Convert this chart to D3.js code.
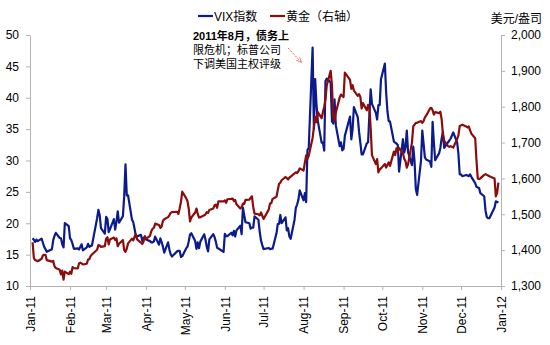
<!DOCTYPE html>
<html>
<head>
<meta charset="utf-8">
<script src="https://cdn.jsdelivr.net/npm/d3@7"></script>
<style>
  html, body { margin: 0; padding: 0; background: #fff; }
  svg { display: block; font-family: "Liberation Sans", Arial, "Noto Sans CJK SC", sans-serif; }
</style>
</head>
<body>
<svg id="chart" width="550" height="345"></svg>
<script>
// ---- Trading days of 2011 (by month) ----
const monthDays = [
  [3,4,5,6,7,10,11,12,13,14,18,19,20,21,24,25,26,27,28,31],
  [1,2,3,4,7,8,9,10,11,14,15,16,17,18,22,23,24,25,28],
  [1,2,3,4,7,8,9,10,11,14,15,16,17,18,21,22,23,24,25,28,29,30,31],
  [1,4,5,6,7,8,11,12,13,14,15,18,19,20,21,25,26,27,28,29],
  [2,3,4,5,6,9,10,11,12,13,16,17,18,19,20,23,24,25,26,27,31],
  [1,2,3,6,7,8,9,10,13,14,15,16,17,20,21,22,23,24,27,28,29,30],
  [1,5,6,7,8,11,12,13,14,15,18,19,20,21,22,25,26,27,28,29],
  [1,2,3,4,5,8,9,10,11,12,15,16,17,18,19,22,23,24,25,26,29,30,31],
  [1,2,6,7,8,9,12,13,14,15,16,19,20,21,22,23,26,27,28,29,30],
  [3,4,5,6,7,10,11,12,13,14,17,18,19,20,21,24,25,26,27,28,31],
  [1,2,3,4,7,8,9,10,11,14,15,16,17,18,21,22,23,25,28,29,30],
  [1,2,5,6,7,8,9,12,13,14,15,16,19,20,21,22,23,27,28,29,30]
];

// ---- VIX index (left axis), by month ----
const vix = [
  [17.61,17.38,17.02,17.40,17.14,17.54,16.89,16.24,15.87,15.46,15.87,17.31,17.99,18.47,17.65,17.59,16.64,16.15,20.04,19.53],
  [17.63,17.30,16.69,15.93,16.00,15.81,16.24,16.64,15.69,16.14,16.72,16.23,16.40,16.43,20.80,22.13,21.32,19.22,18.35],
  [21.01,20.70,18.60,19.06,20.66,19.00,20.22,21.88,20.08,21.13,24.32,29.40,24.44,24.44,20.61,20.18,19.17,18.00,17.91,18.16,17.19,17.68,17.74],
  [17.40,17.15,16.95,16.94,17.11,17.87,16.59,17.59,17.00,16.27,15.32,16.96,15.83,15.07,14.69,15.52,15.62,15.59,14.62,14.75],
  [15.99,16.25,17.08,18.20,18.40,17.16,15.91,16.95,16.03,17.07,18.24,17.42,16.23,15.52,17.43,18.27,17.82,17.07,16.09,15.98,15.45],
  [18.30,17.95,17.95,18.49,18.07,18.79,17.90,18.86,19.61,18.26,22.50,21.30,20.17,19.99,19.14,19.29,19.29,21.10,20.56,18.67,17.27,16.52],
  [15.87,16.06,15.87,15.95,15.95,18.39,19.87,19.91,21.32,20.00,20.95,18.85,19.21,17.90,17.52,20.56,22.44,22.98,23.74,25.25],
  [23.66,24.79,23.38,31.66,32.00,48.00,35.06,42.99,39.00,36.36,32.85,32.85,31.58,42.67,43.05,42.44,36.27,35.90,39.76,35.59,32.28,32.89,31.62],
  [31.82,33.92,37.00,33.38,35.00,38.52,36.91,34.60,32.86,30.98,30.98,32.73,32.91,37.32,41.35,39.02,37.59,36.53,38.84,38.84,42.96],
  [45.45,40.82,37.81,36.27,36.20,33.02,32.86,32.71,32.46,28.24,33.39,31.26,32.13,34.78,31.32,29.26,32.22,29.86,25.46,24.53,29.96],
  [34.77,32.74,30.50,30.16,29.85,28.99,36.16,32.81,30.04,31.13,32.00,33.51,34.51,32.00,32.91,33.19,33.51,34.47,32.89,31.08,27.80],
  [27.80,27.50,27.70,27.60,27.50,27.80,27.40,26.40,25.80,25.70,25.60,24.80,24.30,22.00,21.00,20.80,20.80,22.50,23.50,23.40,23.30]
];

// ---- Gold, USD/oz (right axis), by month ----
const gold = [
  [1422,1378,1372,1371,1369,1376,1385,1387,1387,1372,1368,1370,1355,1350,1345,1332,1343,1318,1340,1333],
  [1340,1334,1353,1350,1349,1363,1365,1363,1360,1362,1374,1375,1384,1388,1401,1414,1413,1409,1411],
  [1432,1436,1416,1430,1435,1428,1433,1411,1418,1428,1400,1395,1404,1419,1432,1427,1437,1444,1430,1421,1417,1424,1439],
  [1432,1440,1453,1460,1462,1474,1470,1462,1466,1482,1486,1492,1497,1504,1506,1507,1501,1517,1535,1563],
  [1545,1537,1516,1480,1491,1505,1516,1501,1491,1492,1497,1500,1506,1504,1512,1516,1525,1527,1518,1536,1536],
  [1539,1532,1542,1543,1544,1537,1540,1528,1516,1520,1530,1529,1540,1541,1546,1550,1520,1502,1500,1497,1505,1496],
  [1487,1513,1530,1531,1543,1549,1567,1585,1588,1595,1604,1601,1597,1602,1605,1614,1617,1615,1620,1628],
  [1622,1644,1664,1655,1663,1713,1742,1772,1757,1785,1768,1785,1800,1822,1860,1900,1860,1770,1760,1783,1826,1834,1830],
  [1827,1895,1875,1850,1860,1845,1830,1835,1828,1795,1810,1790,1805,1800,1741,1665,1640,1654,1617,1625,1628],
  [1640,1630,1638,1645,1635,1675,1665,1684,1675,1685,1670,1655,1648,1630,1640,1700,1745,1750,1755,1755,1760],
  [1755,1760,1770,1775,1795,1797,1790,1778,1785,1782,1786,1765,1722,1705,1690,1688,1690,1686,1710,1720,1746],
  [1748,1750,1745,1742,1745,1735,1725,1712,1650,1600,1598,1600,1610,1612,1610,1608,1606,1600,1550,1560,1588]
];

const leftTicks = [10,15,20,25,30,35,40,45,50];
const rightTicks = [1300,1400,1500,1600,1700,1800,1900,2000];
const monthTicks = d3.range(0, 13).map(m => new Date(2011, m, 1));

const seriesNames = ["VIX指数", "黄金（右轴）"];
const unitLabel = "美元/盎司";
const noteLines = ["2011年8月，债务上", "限危机；标普公司", "下调美国主权评级"];

// ---- build rows ----
const vixRows = [], goldRows = [];
monthDays.forEach((days, m) => {
  days.forEach((d, i) => {
    const dt = new Date(2011, m, d);
    vixRows.push({date: dt, v: vix[m][i]});
    goldRows.push({date: dt, v: gold[m][i]});
  });
});

// ---- layout ----
const svg = d3.select("#chart");
const L = 30, R = 501, T = 35, B = 286;
const axisColor = "#b3b3b3";
const blue = "#0b1a8c", red = "#8c0c0c";

const x = d3.scaleTime().domain([new Date(2011,0,1), new Date(2012,0,1)]).range([L, R]);
const yL = d3.scaleLinear().domain([10, 50]).range([B, T]);
const yR = d3.scaleLinear().domain([1300, 2000]).range([B, T]);

function styleAxis(g) {
  g.select(".domain").attr("stroke", axisColor).attr("stroke-width", 1);
  g.selectAll(".tick line").attr("stroke", axisColor);
  g.selectAll(".tick text").attr("fill", "#000").style("font-size", "12px")
    .style("font-family", '"Liberation Sans", Arial, sans-serif');
}

// left axis
svg.append("g").attr("transform", `translate(${L},0)`)
  .call(d3.axisLeft(yL).tickValues(leftTicks).tickSize(4).tickPadding(7).tickSizeOuter(0))
  .call(styleAxis);

// right axis
svg.append("g").attr("transform", `translate(${R},0)`)
  .call(d3.axisRight(yR).tickValues(rightTicks).tickFormat(d3.format(",")).tickSize(4).tickPadding(6).tickSizeOuter(0))
  .call(styleAxis);

// bottom axis
const xg = svg.append("g").attr("transform", `translate(0,${B})`)
  .call(d3.axisBottom(x).tickValues(monthTicks).tickFormat(d3.timeFormat("%b-%y")).tickSize(4).tickSizeOuter(0))
  .call(styleAxis);
xg.selectAll(".tick text")
  .attr("transform", "rotate(-90)")
  .attr("text-anchor", "end")
  .attr("x", -10).attr("y", 0).attr("dy", "0.35em");

// lines
const lineL = d3.line().x(d => x(d.date)).y(d => yL(d.v));
const lineR = d3.line().x(d => x(d.date)).y(d => yR(d.v));

svg.append("path").datum(vixRows)
  .attr("fill", "none").attr("stroke", blue).attr("stroke-width", 2.2)
  .attr("stroke-linejoin", "round").attr("d", lineL);
svg.append("path").datum(goldRows)
  .attr("fill", "none").attr("stroke", red).attr("stroke-width", 2.2)
  .attr("stroke-linejoin", "round").attr("d", lineR);

// legend
const lg = svg.append("g").style("font-size", "12px").attr("fill", "#000");
[[198, blue, seriesNames[0]], [270, red, seriesNames[1]]].forEach(([lx, c, t]) => {
  lg.append("line").attr("x1", lx).attr("x2", lx + 15).attr("y1", 16).attr("y2", 16)
    .attr("stroke", c).attr("stroke-width", 2.2);
  lg.append("text").attr("x", lx + 16).attr("y", 20.5).text(t);
});

// unit label
svg.append("text").attr("x", 542).attr("y", 23).attr("text-anchor", "end")
  .style("font-size", "12px").attr("fill", "#000").text(unitLabel);

// annotation
const ann = svg.append("g").style("font-size", "11px").attr("fill", "#000");
noteLines.forEach((t, i) => {
  ann.append("text").attr("x", 193).attr("y", 40 + i * 14)
    .style("font-weight", i === 0 ? "bold" : "normal").text(t);
});

// arrow
const defs = svg.append("defs");
defs.append("marker").attr("id", "ah").attr("viewBox", "0 0 10 10")
  .attr("refX", 8).attr("refY", 5).attr("markerWidth", 6).attr("markerHeight", 6)
  .attr("orient", "auto")
  .append("path").attr("d", "M0,1 L9,5 L0,9").attr("fill", "none").attr("stroke", "#f06060").attr("stroke-width", 1.2);
svg.append("line").attr("x1", 288).attr("y1", 48).attr("x2", 301).attr("y2", 62)
  .attr("stroke", "#f06060").attr("stroke-width", 1).attr("stroke-dasharray", "2,1.5")
  .attr("marker-end", "url(#ah)");
</script>
</body>
</html>
